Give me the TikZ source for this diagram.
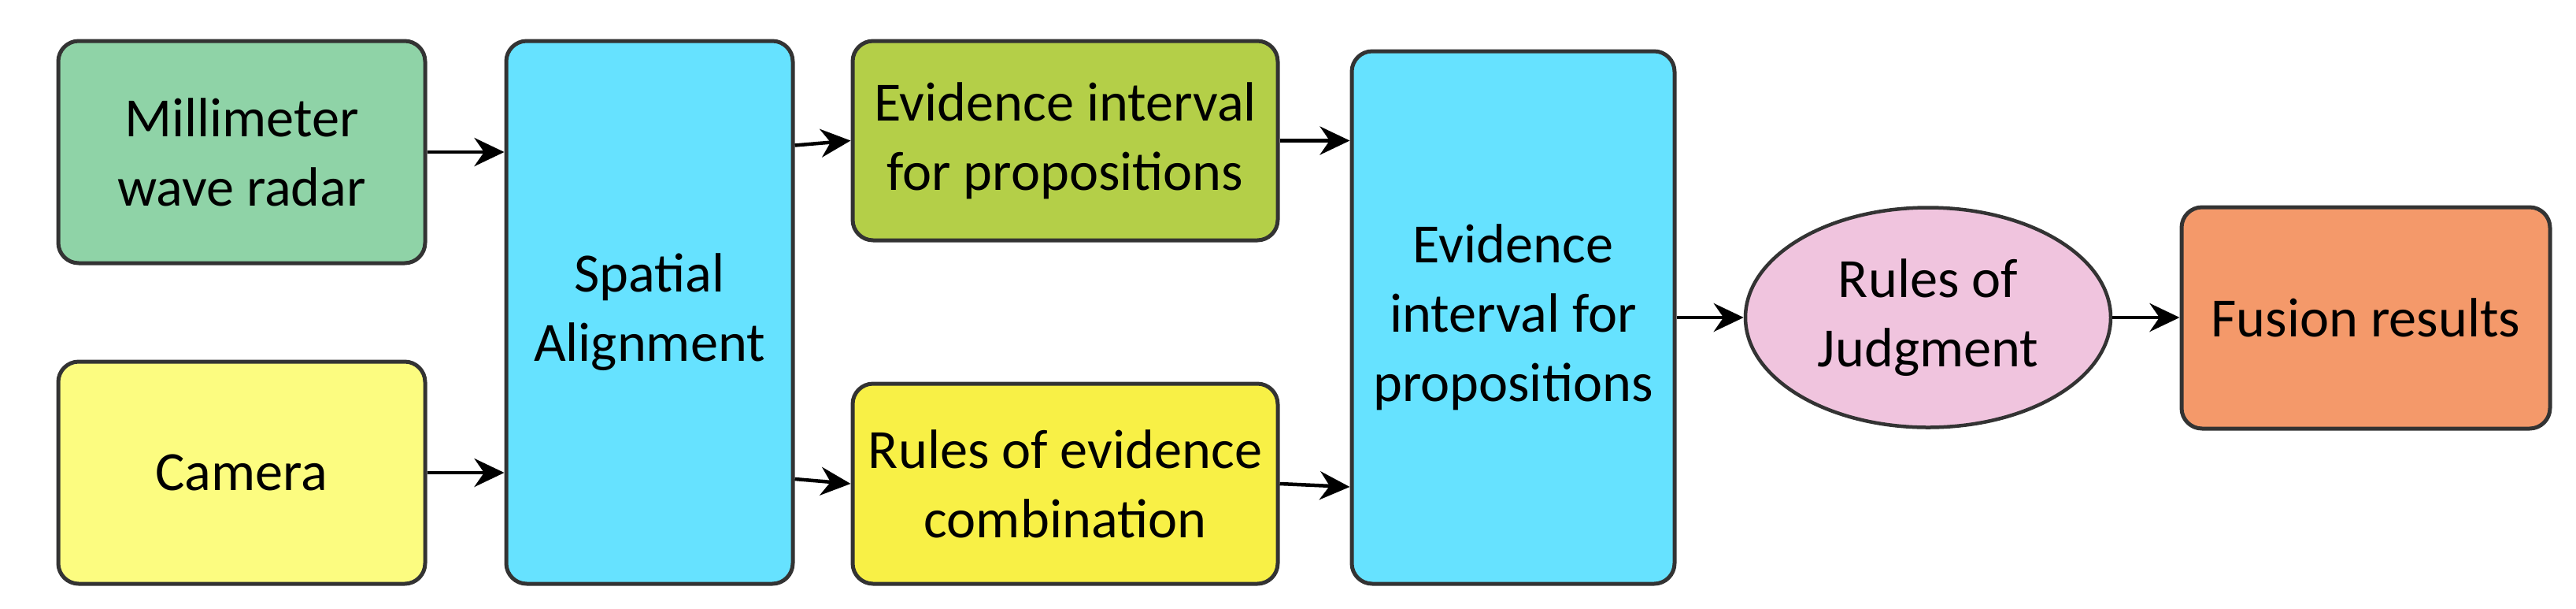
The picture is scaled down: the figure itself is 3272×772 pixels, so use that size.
\documentclass[tikz,border=0pt]{standalone}
\usepackage{fontspec}
\setmainfont{Carlito}
\usetikzlibrary{arrows.meta,shapes.geometric}
\definecolor{cgreen}{HTML}{8FD3A7}
\definecolor{cyell}{HTML}{FCFC80}
\definecolor{ccyan}{HTML}{66E2FF}
\definecolor{colive}{HTML}{B4CF48}
\definecolor{cyell2}{HTML}{F8F046}
\definecolor{cpink}{HTML}{F0C4DE}
\definecolor{corange}{HTML}{F4996A}
\definecolor{cborder}{HTML}{333333}
\tikzset{
  box/.style={draw=cborder, line width=0.5mm, rounded corners=2.6mm, align=center,
    font=\fontsize{20}{25}\selectfont, text=black, inner sep=0pt},
  ell/.style={ellipse, draw=cborder, line width=0.45mm, align=center,
    font=\fontsize{20}{25}\selectfont, text=black, inner sep=0pt},
  arr/.style={-{Stealth[length=3.8mm,width=3.6mm]}, line width=0.45mm, black}
}
\begin{document}
\begin{tikzpicture}[x=0.1mm,y=-0.1mm]
\useasboundingbox (0,0) rectangle (3272,772);
\fill[white] (0,0) rectangle (3272,772);
\node[box, fill=cgreen, minimum width=46.6mm, minimum height=28.2mm] (radar) at (307,193) {Millimeter\\wave radar};
\node[box, fill=cyell, minimum width=46.6mm, minimum height=28.2mm] (camera) at (307,600) {Camera};
\node[box, fill=ccyan, minimum width=36.4mm, minimum height=68.9mm] (spatial) at (825,396.5) {Spatial\\Alignment};
\node[box, fill=colive, minimum width=54mm, minimum height=25.3mm] (evint) at (1353,178.5) {Evidence interval\\for propositions};
\node[box, fill=cyell2, minimum width=54mm, minimum height=25.4mm] (rules) at (1353,614) {Rules of evidence\\combination};
\node[box, fill=ccyan, minimum width=41mm, minimum height=67.6mm] (evprop) at (1922,403) {Evidence\\interval for\\propositions};
\node[ell, fill=cpink, minimum width=46.4mm, minimum height=27.9mm] (judg) at (2449,403) {Rules of\\Judgment};
\node[box, fill=corange, minimum width=46.8mm, minimum height=28.1mm] (fusion) at (3005,403.5) {Fusion results};
\draw[arr] (radar.east) -- (radar.east -| spatial.west);
\draw[arr] (camera.east) -- (camera.east -| spatial.west);
\draw[arr] ([yshift=-0.6mm]spatial.east |- evint.west) -- (evint.west);
\draw[arr] ([yshift=0.6mm]spatial.east |- rules.west) -- (rules.west);
\draw[arr] (evint.east) -- (evint.east -| evprop.west);
\draw[arr] (rules.east) -- ([yshift=-0.4mm]rules.east -| evprop.west);
\draw[arr] (evprop.east |- judg.west) -- (judg.west);
\draw[arr] (judg.east) -- (judg.east -| fusion.west);
\end{tikzpicture}
\end{document}
